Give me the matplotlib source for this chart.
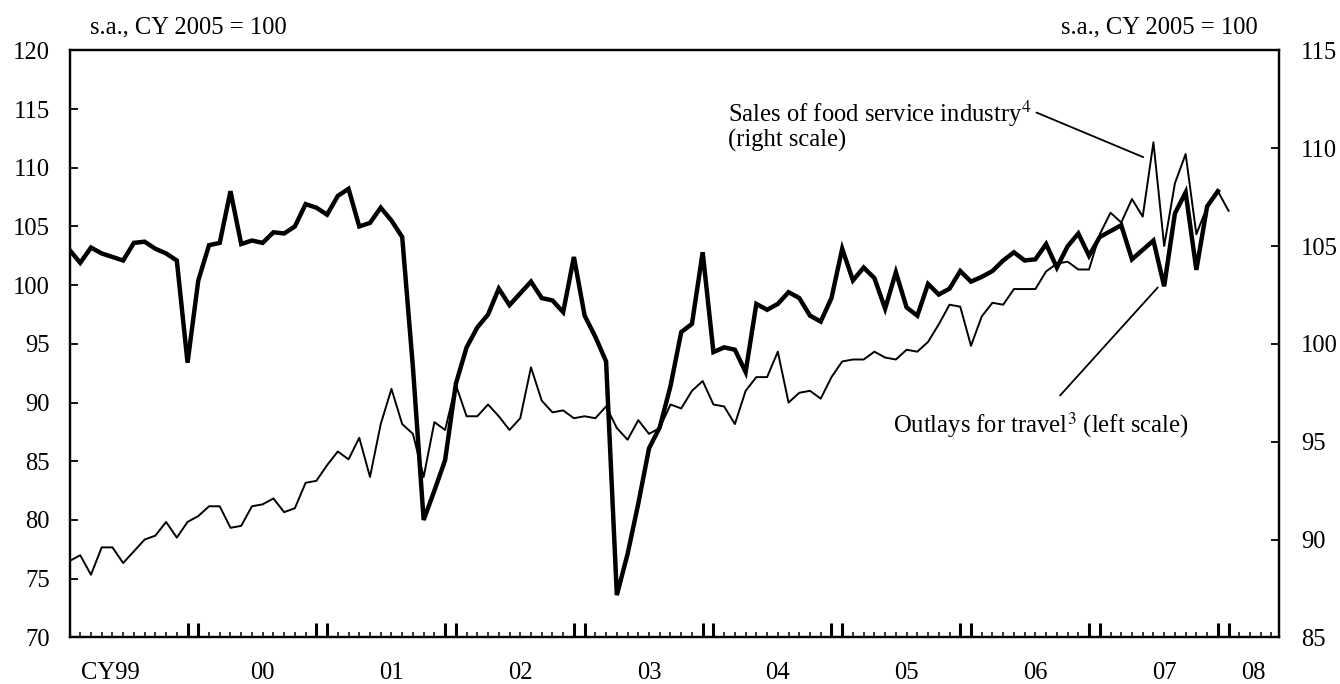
import matplotlib.pyplot as plt
import numpy as np

plt.rcParams['font.family'] = 'Liberation Serif'
plt.rcParams['mathtext.fontset'] = 'stix'

# monthly, Jan 1999 = index 0
# outlays for travel, left scale (s.a., CY2005 = 100)
travel = [103.0, 101.9, 103.2, 102.7, 102.4, 102.1, 103.6, 103.7, 103.1, 102.7, 102.1, 93.4,
          100.4, 103.4, 103.6, 108.0, 103.5, 103.8, 103.6, 104.5, 104.4, 105.0, 106.9, 106.6,
          106.0, 107.6, 108.2, 105.0, 105.3, 106.6, 105.5, 104.1, 93.0, 80.0, 82.5, 85.1,
          91.6, 94.7, 96.4, 97.5, 99.7, 98.3, 99.3, 100.3, 98.9, 98.7, 97.7, 102.4,
          97.4, 95.6, 93.5, 73.6, 77.1, 81.4, 86.1, 87.9, 91.4, 96.0, 96.7, 102.8,
          94.3, 94.7, 94.5, 92.6, 98.4, 97.9, 98.4, 99.4, 98.9, 97.4, 96.9, 98.9,
          103.1, 100.4, 101.5, 100.6, 98.0, 101.1, 98.1, 97.4, 100.1, 99.2, 99.7, 101.2,
          100.3, 100.7, 101.2, 102.1, 102.8, 102.1, 102.2, 103.5, 101.5, 103.3, 104.4, 102.5,
          104.1, 104.6, 105.1, 102.2, 103.0, 103.8, 99.9, 106.1, 107.9, 101.3, 106.7, 108.0]

# sales of food service industry, right scale
food_sales = [88.9, 89.2, 88.2, 89.6, 89.6, 88.8, 89.4, 90.0, 90.2, 90.9, 90.1, 90.9,
              91.2, 91.7, 91.7, 90.6, 90.7, 91.7, 91.8, 92.1, 91.4, 91.6, 92.9, 93.0,
              93.8, 94.5, 94.1, 95.2, 93.2, 95.9, 97.7, 95.9, 95.4, 93.2, 96.0, 95.6,
              97.9, 96.3, 96.3, 96.9, 96.3, 95.6, 96.2, 98.8, 97.1, 96.5, 96.6, 96.2,
              96.3, 96.2, 96.8, 95.7, 95.1, 96.1, 95.4, 95.7, 96.9, 96.7, 97.6, 98.1,
              96.9, 96.8, 95.9, 97.6, 98.3, 98.3, 99.6, 97.0, 97.5, 97.6, 97.2, 98.3,
              99.1, 99.2, 99.2, 99.6, 99.3, 99.2, 99.7, 99.6, 100.1, 101.0, 102.0, 101.9,
              99.9, 101.4, 102.1, 102.0, 102.8, 102.8, 102.8, 103.7, 104.1, 104.2, 103.8, 103.8,
              105.6, 106.7, 106.2, 107.4, 106.5, 110.3, 105.0, 108.2, 109.7, 105.6, 107.0, 107.8,
              106.8]

year_labels = ['CY99', '00', '01', '02', '03', '04', '05', '06', '07', '08']
left_ticks = [70, 75, 80, 85, 90, 95, 100, 105, 110, 115, 120]
right_ticks = [85, 90, 95, 100, 105, 110, 115]

x_travel = np.arange(len(travel))
x_food = np.arange(len(food_sales))
x_end = 112.7

fig = plt.figure(figsize=(13.4, 6.84), dpi=100)
ax = fig.add_axes([69.5 / 1340, 1 - 637.4 / 684, (1279 - 69.5) / 1340, (637.4 - 50.3) / 684])
ax2 = ax.twinx()

ax.plot(x_travel, travel, color='black', lw=3.2, solid_joinstyle='miter')
ax2.plot(x_food, food_sales, color='black', lw=1.4)

ax.set_xlim(0, x_end)
ax.set_ylim(70, 120)
ax2.set_ylim(85, 115)
ax.set_yticks(left_ticks)
ax2.set_yticks(right_ticks)

# month ticks, double tall ticks around each turn of the year
tall = [m for m in range(1, 113) if m % 12 in (11, 0)]
short = [m for m in range(1, 113) if m % 12 not in (11, 0)]
ax.set_xticks(tall)
ax.set_xticks(short, minor=True)
ax.tick_params(axis='x', which='major', direction='in', length=10, width=2.2, labelbottom=False)
ax.tick_params(axis='x', which='minor', direction='in', length=3.6, width=1.1, labelbottom=False)
ax.tick_params(axis='y', direction='in', length=5.5, width=1.3, labelsize=17.7, pad=14)
ax2.tick_params(axis='y', direction='in', length=5.5, width=1.3, labelsize=17.7, pad=16)

for a in (ax, ax2):
    for s in a.spines.values():
        s.set_linewidth(1.6)

# year labels
year_pos = [3.8] + [6 + 12 * k for k in range(1, 9)] + [(108 + x_end) / 2]
for p, lab in zip(year_pos, year_labels):
    ax.text(p, -0.061, lab, transform=ax.get_xaxis_transform(), ha='center', va='center', fontsize=17.7)

fig.text(90 / 1340, 1 - 27 / 684, 's.a., CY 2005 = 100', ha='left', va='center', fontsize=17.7)
fig.text(1258 / 1340, 1 - 27 / 684, 's.a., CY 2005 = 100', ha='right', va='center', fontsize=17.7)

# annotations
ax.text(61.4, 114.6, 'Sales of food service industry$^{4}$', ha='left', va='center', fontsize=17.7)
ax.text(61.4, 112.3, '(right scale)', ha='left', va='center', fontsize=17.7)
ax.annotate('', xy=(100.05, 110.9), xytext=(90.1, 114.7),
            arrowprops=dict(arrowstyle='-', lw=1.3, color='black', shrinkA=0, shrinkB=0))
ax.text(76.7, 88.1, 'Outlays for travel$^{3}$ (left scale)', ha='left', va='center', fontsize=17.7)
ax.annotate('', xy=(101.4, 99.8), xytext=(92.3, 90.6),
            arrowprops=dict(arrowstyle='-', lw=1.3, color='black', shrinkA=0, shrinkB=0))

fig.savefig('out.png', dpi=100)
